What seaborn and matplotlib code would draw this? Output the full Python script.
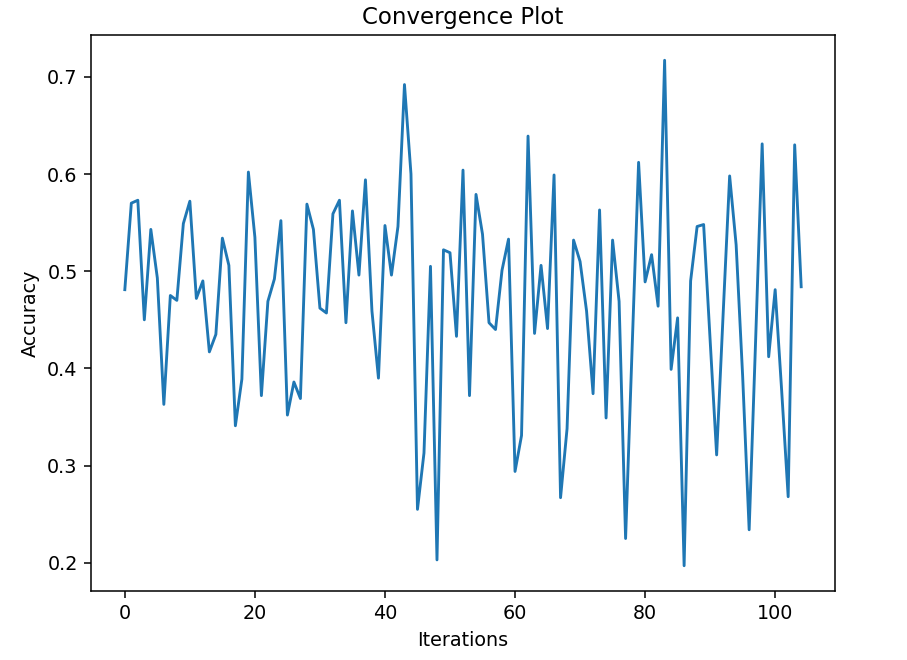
import numpy as np
import pandas as pd
import matplotlib
matplotlib.use('Agg')
import matplotlib.pyplot as plt
import seaborn as sns

# ────────────────────────────────────────────────────────
# ค่าที่อ่านได้จากกราฟ (accuracy ต่อ iteration)
accuracy = [
    0.481, 0.570, 0.573, 0.450, 0.543, 0.493, 0.363, 0.475, 0.470, 0.549,
    0.572, 0.472, 0.490, 0.417, 0.435, 0.534, 0.506, 0.341, 0.389, 0.602,
    0.535, 0.372, 0.469, 0.492, 0.552, 0.352, 0.386, 0.369, 0.569, 0.543,
    0.462, 0.457, 0.559, 0.573, 0.447, 0.562, 0.496, 0.594, 0.459, 0.390,
    0.547, 0.496, 0.546, 0.692, 0.600, 0.255, 0.313, 0.505, 0.203, 0.522,
    0.519, 0.433, 0.604, 0.372, 0.579, 0.538, 0.447, 0.440, 0.501, 0.533,
    0.294, 0.331, 0.639, 0.436, 0.506, 0.441, 0.599, 0.267, 0.338, 0.532,
    0.510, 0.459, 0.374, 0.563, 0.349, 0.532, 0.469, 0.225, 0.420, 0.612,
    0.489, 0.517, 0.464, 0.717, 0.399, 0.452, 0.197, 0.490, 0.546, 0.548,
    0.429, 0.311, 0.456, 0.598, 0.527, 0.392, 0.234, 0.430, 0.631, 0.412,
    0.481, 0.377, 0.268, 0.630, 0.484,
]
iterations = list(range(len(accuracy)))

df = pd.DataFrame({'Iterations': iterations, 'Accuracy': accuracy})

# ────────────────────────────────────────────────────────
# วาดกราฟ
fig = plt.figure(figsize=(907 / 137.5, 660 / 137.5), dpi=137.5)
ax = fig.add_axes([91 / 907, 69 / 660, 744 / 907, 556 / 660])

sns.lineplot(data=df, x='Iterations', y='Accuracy', ax=ax, color='#1f77b4', linewidth=1.5)

ax.set_title('Convergence Plot')
ax.set_xlabel('Iterations')
ax.set_ylabel('Accuracy')
ax.set_xticks([0, 20, 40, 60, 80, 100])
ax.set_yticks([0.2, 0.3, 0.4, 0.5, 0.6, 0.7])

fig.savefig('out.png', dpi=137.5)
print("Saved out.png")
